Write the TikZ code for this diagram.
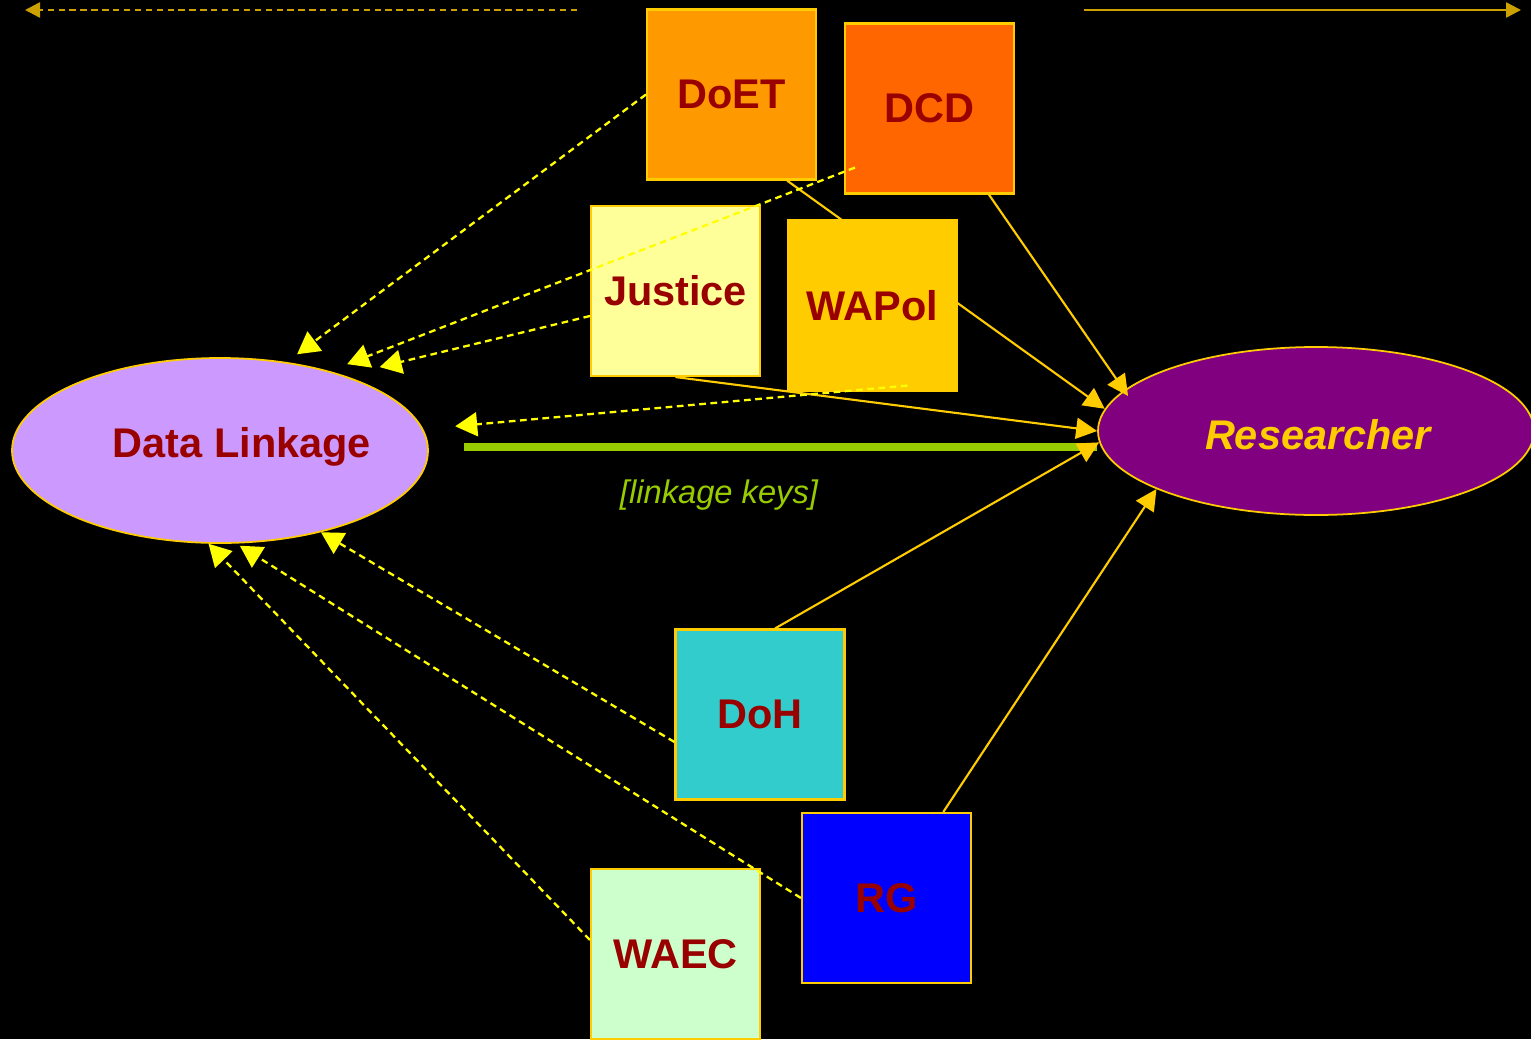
\documentclass[tikz,border=0pt]{standalone}
\usepackage{fontspec}
\setmainfont{Liberation Sans}
\usetikzlibrary{arrows.meta,shapes.geometric}

\definecolor{rojo}{HTML}{990000}
\definecolor{oro}{HTML}{FFCC00}
\definecolor{amarillo}{HTML}{FFFF00}
\definecolor{ocre}{RGB}{204,160,0}
\definecolor{verde}{HTML}{99CC00}
\definecolor{lila}{HTML}{CC99FF}
\definecolor{morado}{HTML}{800080}
\definecolor{naranja}{HTML}{FF9900}
\definecolor{naranjaosc}{HTML}{FF6600}
\definecolor{crema}{HTML}{FFFF99}
\definecolor{turquesa}{HTML}{33CCCC}
\definecolor{azul}{HTML}{0000FF}
\definecolor{menta}{HTML}{CCFFCC}

\pgfdeclarelayer{fondo}
\pgfdeclarelayer{flechas}
\pgfsetlayers{fondo,flechas,main}

\begin{document}
\begin{tikzpicture}[
  caja/.style={draw=oro, line width=0.6pt, minimum width=1.69cm, minimum height=1.70cm, inner sep=0pt, text=rojo, font=\fontsize{11.8}{14}\selectfont\bfseries},
  elipse/.style={ellipse, draw=oro, line width=0.5pt, inner sep=0pt, font=\fontsize{11.8}{14}\selectfont\bfseries},
  punteada/.style={amarillo, line width=0.65pt, dash pattern=on 1.9pt off 1.3pt, -{Triangle[length=0.22cm,width=0.24cm]}},
  solida/.style={oro, line width=0.6pt, -{Triangle[length=0.21cm,width=0.21cm]}},
  borde/.style={ocre, line width=0.7pt, -{Triangle[length=0.15cm,width=0.15cm]}}
]
\useasboundingbox (0,0) rectangle (15.31,-10.39);

% Fondo negro y elipses
\begin{pgfonlayer}{fondo}
\fill[black] (0,0) rectangle (15.31,-10.39);
\node[elipse, fill=lila, minimum width=4.16cm, minimum height=1.85cm,
  label={[xshift=0.22cm, yshift=0.035cm, text=rojo, font=\fontsize{11.8}{14}\selectfont\bfseries]center:Data Linkage}] (DL) at (2.20,-4.505) {};
\node[elipse, fill=morado, minimum width=4.36cm, minimum height=1.68cm,
  label={[xshift=0.02cm, yshift=-0.035cm, text=oro, font=\fontsize{11.8}{14}\selectfont\bfseries\itshape]center:Researcher}] (Res) at (13.16,-4.31) {};
\end{pgfonlayer}

% Cajas de las agencias
\node[caja, fill=naranja] (DoET) at (7.315,-0.945) {DoET};
\node[caja, fill=naranjaosc] (DCD) at (9.295,-1.085) {DCD};
\node[caja, fill=crema] (Justice) at (6.755,-2.91) {Justice};
\node[caja, fill=oro] (WAPol) at (8.725,-3.055) {WAPol};
\node[caja, fill=turquesa] (DoH) at (7.60,-7.145) {DoH};
\node[caja, fill=azul] (RG) at (8.865,-8.98) {RG};
\node[caja, fill=menta] (WAEC) at (6.755,-9.54) {WAEC};

% Flechas hacia Researcher (por debajo de las cajas)
\begin{pgfonlayer}{flechas}
\coordinate (clave) at ([xshift=0.35cm,yshift=0.035cm]DL.east);
\draw[verde, line width=2pt] (clave) -- (clave -| Res.west);
\draw[solida, shorten >=-0.07cm] (DCD) -- (Res.168.7);
\draw[solida] ([xshift=0.555cm]DoET.south) -- (Res.174.4);
\draw[solida] (Justice.south) -- (Res.180);
\draw[solida] ([xshift=0.15cm]DoH.north) -- (Res.183.9);
\draw[solida] (RG) -- (Res.200.5);
\end{pgfonlayer}

% Flechas punteadas hacia Data Linkage
\draw[punteada, shorten >=0.13cm] (DoET.west) -- (DL.53.7);
\draw[punteada, shorten >=0.19cm] ([xshift=0.11cm,yshift=0.27cm]DCD.south west) -- (DL.36);
\draw[punteada, shorten >=0.36cm] ([yshift=-0.25cm]Justice.west) -- (DL.31);
\draw[punteada, shorten >=0.32cm] ([xshift=0.35cm,yshift=0.06cm]WAPol.south) -- (DL.6);
\draw[punteada] ([yshift=-0.275cm]DoH.west) -- (DL.321.4);
\draw[punteada, shorten >=0.04cm] (RG.west) -- (DL.280);
\draw[punteada] ([yshift=0.14cm]WAEC.west) -- (DL.263.6);

\node[text=verde, font=\fontsize{9.3}{11}\selectfont\itshape] (claves) at (7.19,-4.95) {[linkage keys]};

% Flechas del borde superior
\coordinate (izqA) at (5.77,-0.10);
\coordinate (izqB) at (0.25,-0.10);
\draw[borde, dash pattern=on 1.8pt off 1.3pt] (izqA) -- (izqB);
\coordinate (derA) at (10.84,-0.10);
\coordinate (derB) at (15.21,-0.10);
\draw[borde] (derA) -- (derB);

\end{tikzpicture}
\end{document}
